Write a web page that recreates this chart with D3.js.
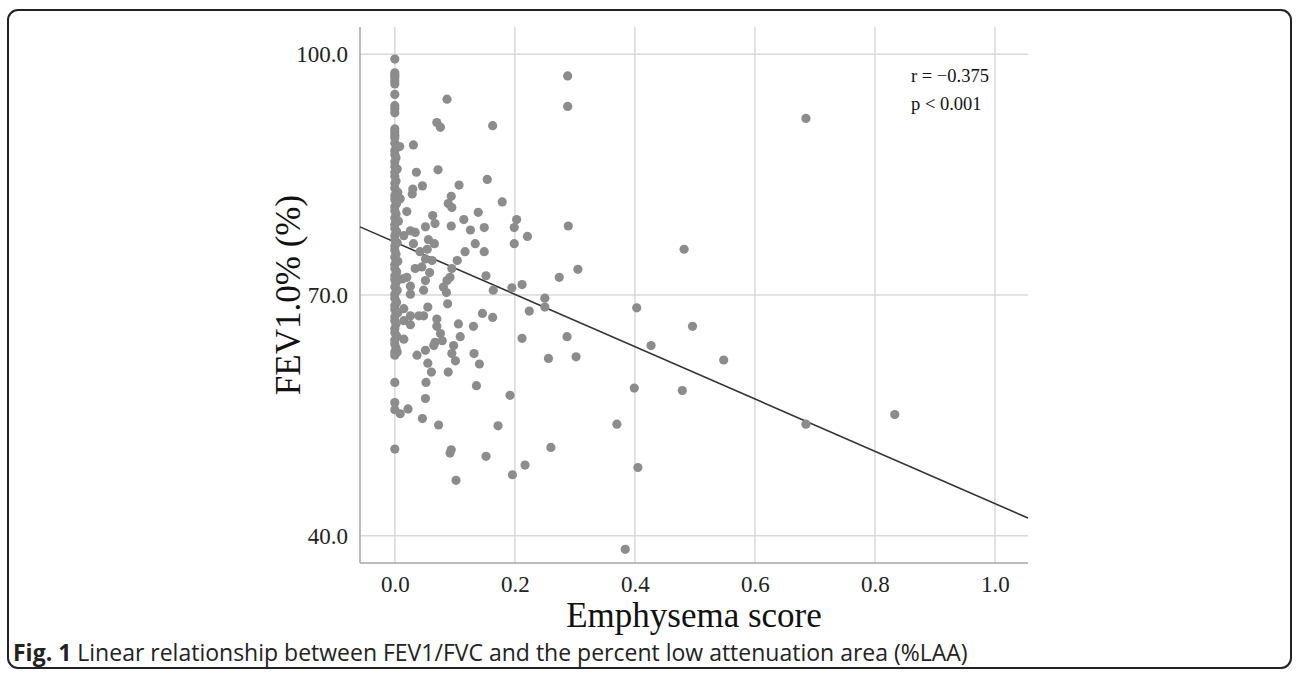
<!DOCTYPE html>
<html>
<head>
<meta charset="utf-8">
<script src="https://cdn.jsdelivr.net/npm/d3@7"></script>
<style>
  body { margin: 0; background: #fff; }
  svg { display: block; }
</style>
</head>
<body>
<div id="chart"></div>
<script>
    const width = 1296;
    const height = 676;

    // points stacked on (or very near) emphysema score 0
    const zeroScores = [0,0,0,0,0,0,0,0,0,0,0,0,0,0,
        0,0.003,0,0,0.002,0,0,0.004,0,0,0.002,0,0,0.005,0,0,0.003,0,0,0.002,0,0.006,0,0,0.003,0,0,0.004,0,0,0.002,0,0.005,0,0,0.003,0,0,0.002,0,0.004,0,0,0.003,0,0,0.005,0,0,0.002,0,0,0.003,0,0,0.002,0,0,
        0,0,0,0];
    const zeroFev = [99.4,97.7,97.4,97.1,96.7,96.3,95.0,93.6,93.2,92.7,90.7,90.3,89.9,89.6,
        88.9,88.4,88.0,87.5,87.1,86.6,86.0,85.7,85.3,84.8,84.2,83.9,83.3,82.8,82.4,81.9,81.4,81.0,80.5,80.1,79.6,79.2,78.8,78.3,77.9,77.4,76.9,76.5,76.1,75.6,75.1,74.7,74.2,73.8,73.3,72.9,72.4,71.9,71.5,71.0,70.6,70.1,69.6,69.1,68.7,68.2,67.8,67.3,66.8,66.4,65.8,65.3,64.9,64.4,63.9,63.4,62.9,62.5,
        59.1,56.6,55.7,50.8];

    // the rest of the scatter
    const scores = [0.087,0.288,0.288,0.070,0.076,0.163,0.008,0.031,0.036,0.072,0.046,0.030,0.029,0.107,0.154,0.094,0.089,0.095,0.179,0.020,
        0.063,0.139,0.115,0.203,0.009,0.067,0.094,0.126,0.149,0.199,0.051,0.026,0.034,0.015,0.289,0.221,0.031,0.056,0.066,0.134,
        0.199,0.042,0.054,0.117,0.149,0.051,0.062,0.104,0.034,0.045,0.058,0.095,0.020,0.012,0.051,0.092,0.087,0.152,0.274,0.212,
        0.195,0.081,0.026,0.048,0.086,0.164,0.026,0.250,0.250,0.088,0.015,0.055,0.224,0.026,0.040,0.048,0.146,0.163,0.015,0.070,
        0.026,0.070,0.106,0.131,0.287,0.212,0.076,0.067,0.079,0.109,0.015,0.004,0.065,0.098,0.051,0.037,0.095,0.101,0.132,0.256,
        0.055,0.141,0.061,0.089,0.052,0.136,0.192,0.051,0.009,0.022,0.046,0.073,0.172,0.094,0.092,0.152,0.260,0.217,0.196,0.102,
        0.482,0.305,0.403,0.496,0.427,0.302,0.548,0.399,0.479,0.370,0.405,0.384,0.685,0.685,0.833];
    const fev = [94.4,97.3,93.5,91.5,90.9,91.1,88.5,88.7,85.3,85.6,83.6,83.2,82.6,83.7,84.4,82.3,81.4,80.9,81.6,80.4,
        79.9,80.3,79.4,79.4,82.0,78.9,78.6,78.1,78.4,78.4,78.5,78.0,77.8,77.4,78.6,77.3,76.4,76.9,76.4,76.4,
        76.4,75.4,75.7,75.4,75.4,74.5,74.3,74.3,73.3,73.5,72.8,73.3,72.2,72.0,71.8,72.2,71.8,72.4,72.2,71.3,
        70.9,71.0,71.1,70.6,70.3,70.6,70.1,69.6,68.5,68.9,68.3,68.5,68.0,67.4,67.4,67.4,67.7,67.2,66.8,67.0,
        66.3,66.1,66.4,66.1,64.8,64.6,65.2,64.1,64.3,64.8,64.5,62.9,63.7,63.7,63.1,62.5,62.7,61.8,62.7,62.1,
        61.5,61.4,60.4,60.4,59.1,58.7,57.5,57.1,55.2,55.8,54.6,53.8,53.7,50.7,50.3,49.9,51.0,48.8,47.6,46.9,
        75.7,73.2,68.4,66.1,63.7,62.3,61.9,58.4,58.1,53.9,48.5,38.3,92.0,53.9,55.1];

    // fit line, fev = a + b * score
    const fitIntercept = 76.6;
    const fitSlope = -32.6;

    const xTicks = [0.0, 0.2, 0.4, 0.6, 0.8, 1.0];
    const yTicks = [40.0, 70.0, 100.0];

    const serif = "'Liberation Serif', 'Times New Roman', serif";

    const svg = d3.select("#chart").append("svg")
        .attr("width", width)
        .attr("height", height);

    // rounded frame
    svg.append("rect")
        .attr("x", 8).attr("y", 10)
        .attr("width", 1283).attr("height", 658)
        .attr("rx", 10)
        .attr("fill", "none")
        .attr("stroke", "#222")
        .attr("stroke-width", 2);

    const plotL = 360, plotR = 1028, plotT = 27, plotB = 563;

    const x = d3.scaleLinear().domain([-0.058, 1.055]).range([plotL, plotR]);
    const y = d3.scaleLinear().domain([36.6, 103.4]).range([plotB, plotT]);

    // grid
    svg.append("g").selectAll("line").data(xTicks).join("line")
        .attr("x1", d => x(d)).attr("x2", d => x(d))
        .attr("y1", plotT).attr("y2", plotB)
        .attr("stroke", "#d9d9d9").attr("stroke-width", 1.5);
    svg.append("g").selectAll("line").data(yTicks).join("line")
        .attr("x1", plotL).attr("x2", plotR)
        .attr("y1", d => y(d)).attr("y2", d => y(d))
        .attr("stroke", "#d9d9d9").attr("stroke-width", 1.5);

    // axes
    const xAxis = svg.append("g")
        .attr("transform", `translate(0,${plotB})`)
        .call(d3.axisBottom(x).tickValues(xTicks).tickFormat(d3.format(".1f")).tickSize(0).tickPadding(13));
    const yAxis = svg.append("g")
        .attr("transform", `translate(${plotL},0)`)
        .call(d3.axisLeft(y).tickValues(yTicks).tickFormat(d3.format(".1f")).tickSize(0).tickPadding(12));

    [xAxis, yAxis].forEach(g => {
        g.select(".domain").attr("stroke", "#a6a6a6").attr("stroke-width", 1.5);
        g.selectAll("text")
            .attr("fill", "#222")
            .style("font-family", serif)
            .style("font-size", "23px");
    });
    xAxis.select(".domain").attr("d", `M${plotL},0H${plotR}`);
    yAxis.select(".domain").attr("d", `M0,${plotT}V${plotB}`);

    // regression line
    const xd = x.domain();
    svg.append("line")
        .attr("x1", x(xd[0])).attr("y1", y(fitIntercept + fitSlope * xd[0]))
        .attr("x2", x(xd[1])).attr("y2", y(fitIntercept + fitSlope * xd[1]))
        .attr("stroke", "#333").attr("stroke-width", 1.6);

    // points
    const pts = zeroScores.map((s, i) => ({ s: s, f: zeroFev[i] }))
        .concat(scores.map((s, i) => ({ s: s, f: fev[i] })));
    svg.append("g").selectAll("circle").data(pts).join("circle")
        .attr("cx", d => x(d.s))
        .attr("cy", d => y(d.f))
        .attr("r", 4.6)
        .attr("fill", "#8c8c8c");

    // axis titles
    svg.append("text")
        .attr("x", (plotL + plotR) / 2).attr("y", 627)
        .attr("text-anchor", "middle")
        .style("font-family", serif)
        .style("font-size", "35px")
        .attr("fill", "#111")
        .text("Emphysema score");
    svg.append("text")
        .attr("transform", "translate(300,295) rotate(-90)")
        .attr("text-anchor", "middle")
        .style("font-family", serif)
        .style("font-size", "35px")
        .attr("fill", "#111")
        .text("FEV1.0% (%)");

    // r / p annotation
    const note = svg.append("text")
        .style("font-family", serif)
        .style("font-size", "18.5px")
        .attr("fill", "#111");
    note.append("tspan").attr("x", 911).attr("y", 82).text("r = \u22120.375");
    note.append("tspan").attr("x", 911).attr("y", 110).text("p < 0.001");

    // caption
    const cap = svg.append("text")
        .attr("x", 13).attr("y", 661)
        .style("font-family", "'Open Sans', 'Noto Sans', sans-serif")
        .style("font-size", "23px")
        .attr("fill", "#222");
    cap.append("tspan").style("font-weight", "bold").text("Fig. 1");
    cap.append("tspan").text(" Linear relationship between FEV1/FVC and the percent low attenuation area (%LAA)");
</script>
</body>
</html>
